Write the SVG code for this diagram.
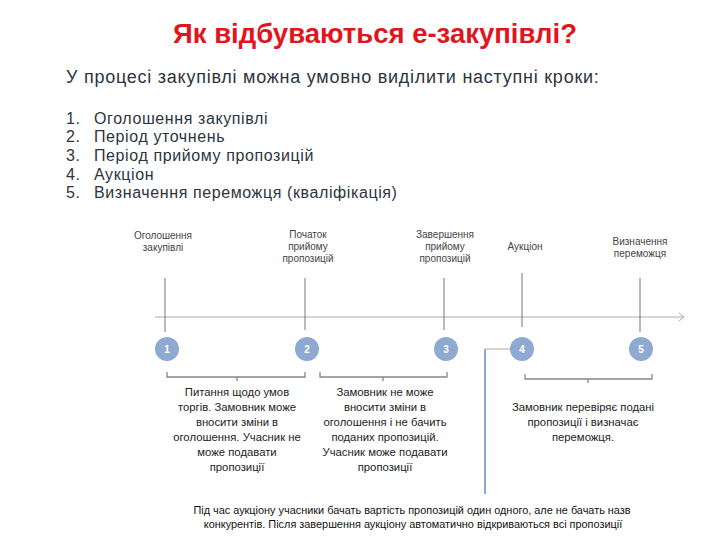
<svg xmlns="http://www.w3.org/2000/svg" width="720" height="540" viewBox="0 0 720 540">
<style>
.title{font-family:"Liberation Sans",Arial,sans-serif;font-size:27.5px;font-weight:bold;fill:#e0161e}
.sub{font-family:"Liberation Sans",Arial,sans-serif;font-size:18px;letter-spacing:0.75px;fill:#2d3440}
.li{font-family:"Liberation Sans",Arial,sans-serif;font-size:16px;letter-spacing:0.6px;fill:#2d3440}
.lbl{font-family:"Liberation Sans",Arial,sans-serif;font-size:10px;fill:#444;text-anchor:middle}
.desc{font-family:"Liberation Sans",Arial,sans-serif;font-size:11.3px;fill:#222;text-anchor:middle}
.note{font-family:"Liberation Sans",Arial,sans-serif;font-size:10.9px;fill:#111;text-anchor:middle}
.num{font-family:"Liberation Sans",Arial,sans-serif;font-size:10px;font-weight:bold;fill:#fff;text-anchor:middle}
.circ{fill:#8eaad3}
.tick{stroke:#777;stroke-width:1;fill:none}
.brk{stroke:#888;stroke-width:1.3;fill:none}
</style>
<rect width="720" height="540" fill="#fff"/>
<text class="title" x="375" y="43" text-anchor="middle">Як відбуваються е-закупівлі?</text>
<text class="sub" x="66" y="83">У процесі закупівлі можна умовно виділити наступні кроки:</text>
<g class="li">
<text x="66" y="124">1.</text><text x="94" y="124">Оголошення закупівлі</text>
<text x="66" y="142">2.</text><text x="94" y="142">Період уточнень</text>
<text x="66" y="161">3.</text><text x="94" y="161">Період прийому пропозицій</text>
<text x="66" y="180">4.</text><text x="94" y="180">Аукціон</text>
<text x="66" y="198">5.</text><text x="94" y="198">Визначення переможця (кваліфікація)</text>
</g>
<g id="connectors">
<line x1="155" y1="317" x2="684" y2="317" stroke="#aaa" stroke-width="1"/>
<polyline points="679,313 684,317 679,321" fill="none" stroke="#aaa" stroke-width="1"/>
<line class="tick" x1="165" y1="278" x2="165" y2="332"/>
<line class="tick" x1="305" y1="278" x2="305" y2="330"/>
<line class="tick" x1="444" y1="278" x2="444" y2="330" stroke="#bbb"/>
<line class="tick" x1="522" y1="273" x2="522" y2="327"/>
<line class="tick" x1="640" y1="278" x2="640" y2="332" stroke="#666"/>
<path class="brk" d="M167,372 V377 H305 V372 M237,377 V381"/>
<path class="brk" d="M320,372 V377 H447 V372 M383,377 V381"/>
<path class="brk" d="M525,374 V379 H652 V374 M588,379 V383"/>
<polyline points="510,349 485,349" fill="none" stroke="#aaa" stroke-width="1"/>
<line x1="485" y1="349" x2="485" y2="494" stroke="#8eaad3" stroke-width="2"/>
</g>
<g id="n1"><text class="lbl" x="163" y="239">Оголошення</text><text class="lbl" x="163" y="251">закупівлі</text><circle class="circ" cx="167" cy="349" r="12"/><text class="num" x="167" y="353">1</text></g>
<g id="n2"><text class="lbl" x="308" y="238">Початок</text><text class="lbl" x="308" y="250">прийому</text><text class="lbl" x="308" y="262">пропозицій</text><circle class="circ" cx="307" cy="349" r="12"/><text class="num" x="307" y="353">2</text></g>
<g id="n3"><text class="lbl" x="445" y="238">Завершення</text><text class="lbl" x="445" y="250">прийому</text><text class="lbl" x="445" y="262">пропозицій</text><circle class="circ" cx="446" cy="349" r="12"/><text class="num" x="446" y="353">3</text></g>
<g id="n4"><text class="lbl" x="525" y="250">Аукціон</text><circle class="circ" cx="522" cy="349" r="12"/><text class="num" x="522" y="353">4</text></g>
<g id="n5"><text class="lbl" x="640" y="245">Визначення</text><text class="lbl" x="640" y="257">переможця</text><circle class="circ" cx="641" cy="349" r="12"/><text class="num" x="641" y="353">5</text></g>
<g id="d1">
<text class="desc" x="237" y="396">Питання щодо умов</text>
<text class="desc" x="237" y="411">торгів. Замовник може</text>
<text class="desc" x="237" y="426">вносити зміни в</text>
<text class="desc" x="237" y="441">оголошення. Учасник не</text>
<text class="desc" x="237" y="456">може подавати</text>
<text class="desc" x="237" y="471">пропозиції</text>
</g>
<g id="d2">
<text class="desc" x="385" y="396">Замовник не може</text>
<text class="desc" x="385" y="411">вносити зміни в</text>
<text class="desc" x="385" y="426">оголошення і не бачить</text>
<text class="desc" x="385" y="441">поданих пропозицій.</text>
<text class="desc" x="385" y="456">Учасник може подавати</text>
<text class="desc" x="385" y="471">пропозиції</text>
</g>
<g id="d3">
<text class="desc" x="583" y="411">Замовник перевіряє подані</text>
<text class="desc" x="583" y="426">пропозиції і визначає</text>
<text class="desc" x="583" y="441">переможця.</text>
</g>
<g id="d4">
<text class="note" x="412" y="514">Під час аукціону учасники бачать вартість пропозицій один одного, але не бачать назв</text>
<text class="note" x="413" y="528">конкурентів. Після завершення аукціону автоматично відкриваються всі пропозиції</text>
</g>
</svg>
